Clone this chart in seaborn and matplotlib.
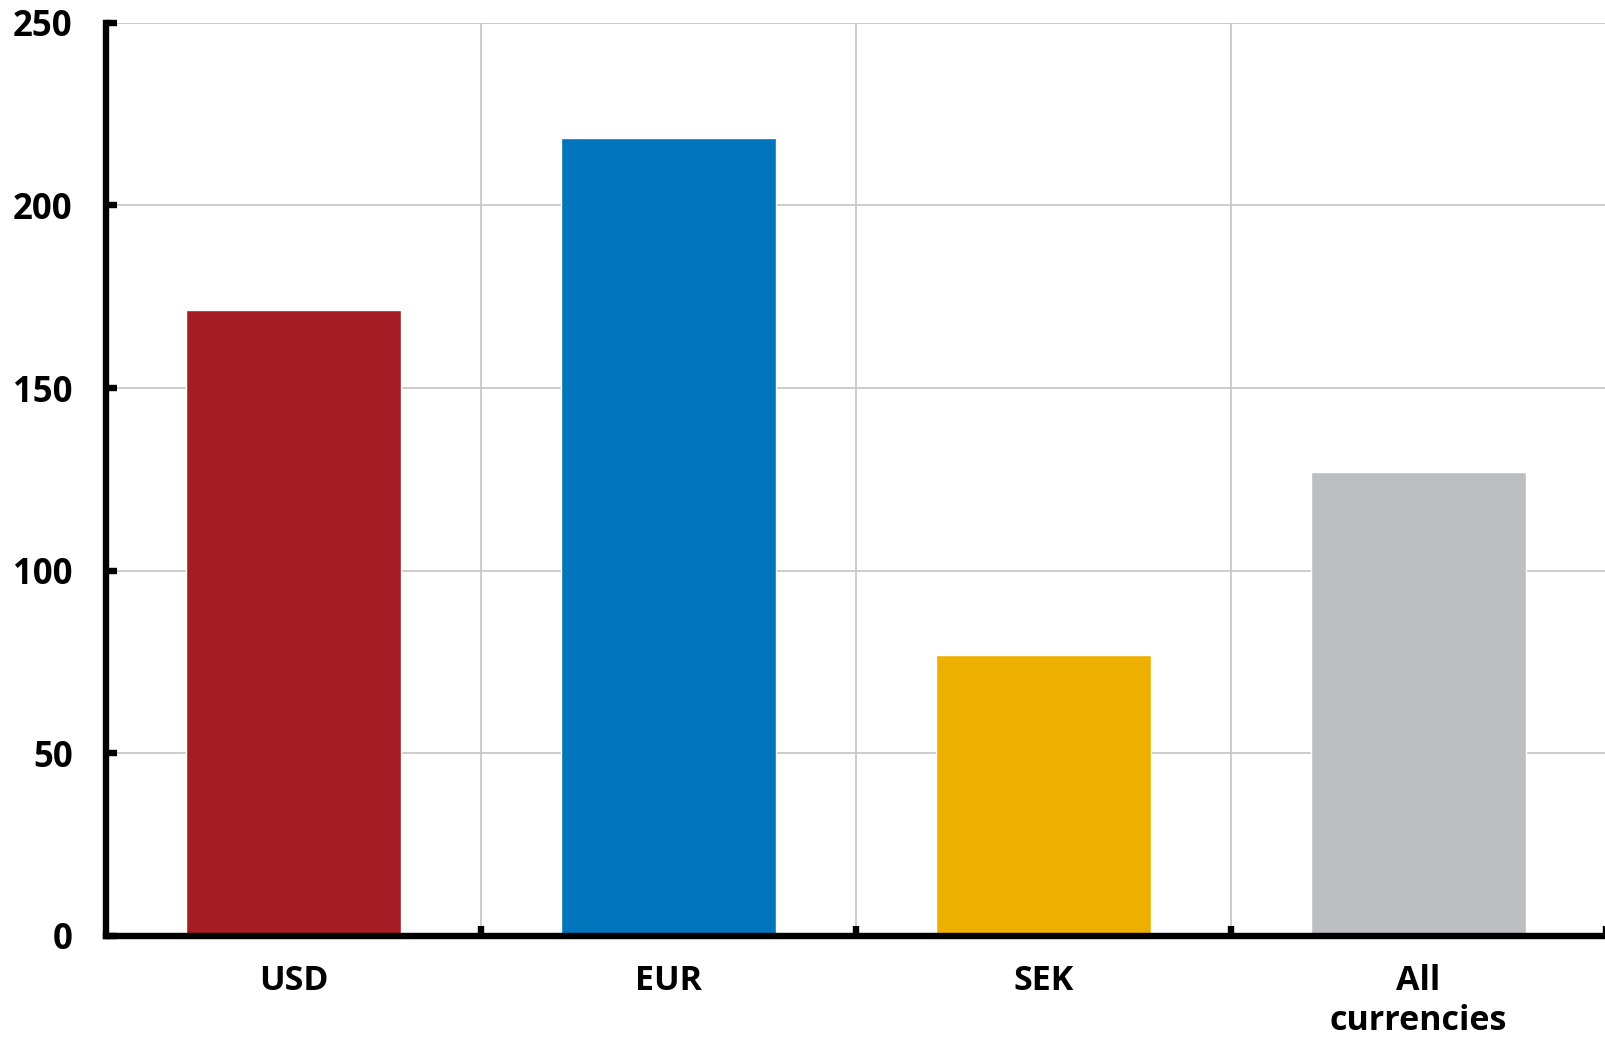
import matplotlib
matplotlib.use("Agg")
import matplotlib.pyplot as plt
import seaborn as sns
import pandas as pd

# Values by currency
categories = ["USD", "EUR", "SEK", "All\ncurrencies"]
values = [171.3, 218.4, 76.8, 126.9]
colors = ["#A51C24", "#0075BC", "#EEB000", "#BDBEC0"]
y_ticks = [0, 50, 100, 150, 200, 250]

sns.set_theme(style="white")
plt.rcParams["font.family"] = ["Open Sans", "DejaVu Sans"]
plt.rcParams["font.weight"] = "bold"

df = pd.DataFrame({"category": categories, "value": values})

fig = plt.figure(figsize=(16.06, 10.38), dpi=100)
ax = fig.add_axes([0.066, 0.0985, 0.934, 0.8795])

sns.barplot(data=df, x="category", y="value", hue="category",
            palette=colors, order=categories, hue_order=categories,
            width=0.575, saturation=1, legend=False, ax=ax, zorder=2)

ax.set_xlim(-0.5, len(categories) - 0.5)
ax.set_ylim(0, 250)
ax.set_xlabel("")
ax.set_ylabel("")

# Gridlines: horizontal at y ticks, vertical between categories
ax.set_yticks(y_ticks)
ax.set_yticklabels([str(t) for t in y_ticks], fontsize=25, fontweight="bold")
bounds = [i + 0.5 for i in range(len(categories))]
ax.set_xticks(range(len(categories)))
ax.set_xticklabels(categories, fontsize=24.5, fontweight="bold", linespacing=1.25)
ax.set_xticks(bounds, minor=True)

ax.grid(False)
for y in y_ticks:
    ax.axhline(y, color="#C8C8C8", lw=1.3, zorder=0)
for b in bounds:
    ax.axvline(b, color="#C8C8C8", lw=1.3, zorder=0)

ax.tick_params(axis="x", which="major", bottom=True, length=0, pad=20,
               colors="black")
ax.tick_params(axis="x", which="minor", bottom=True, direction="in",
               length=7, width=4.6, color="black")
ax.tick_params(axis="y", which="major", left=True, direction="in",
               length=8, width=4.6, color="black", pad=24,
               labelcolor="black")

for side in ["top", "right"]:
    ax.spines[side].set_visible(False)
for side in ["left", "bottom"]:
    ax.spines[side].set_color("black")
    ax.spines[side].set_linewidth(4.6)
    ax.spines[side].set_zorder(3)

fig.savefig("out.png", dpi=100, facecolor="white")
